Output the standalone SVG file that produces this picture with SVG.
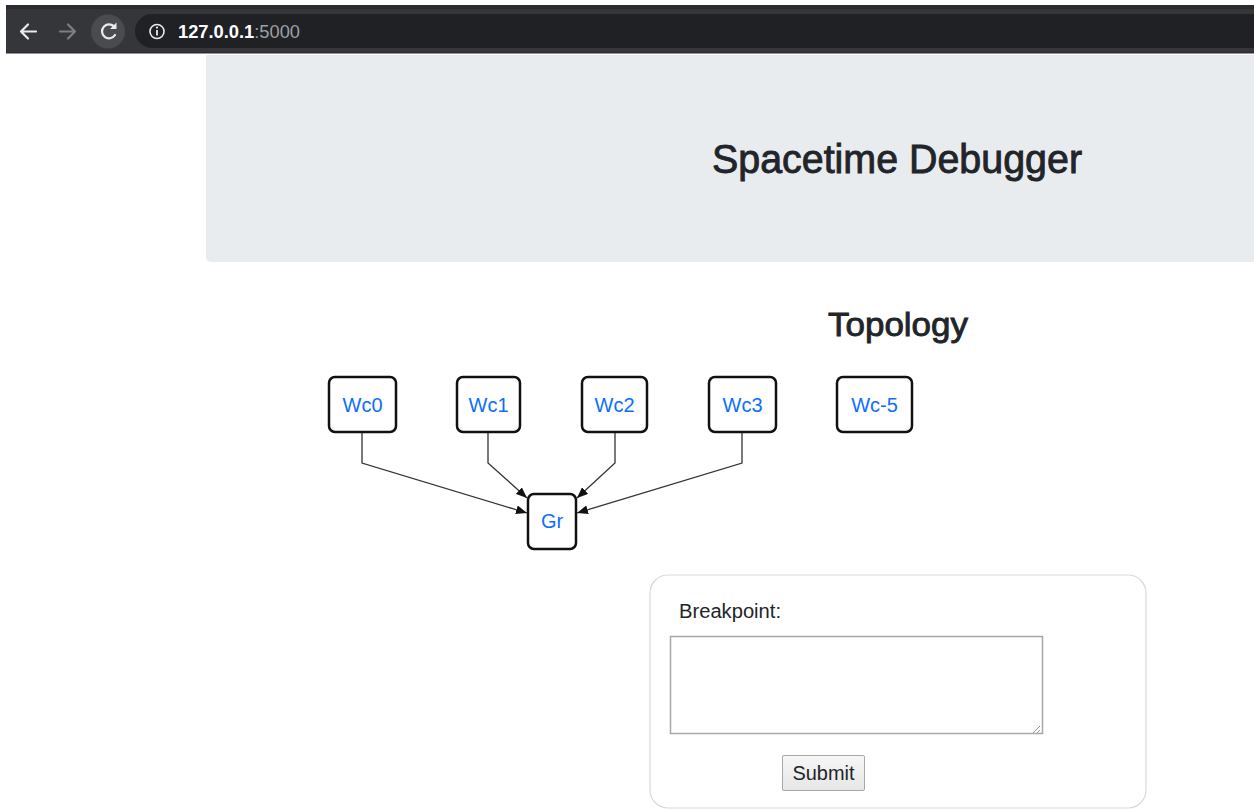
<svg xmlns="http://www.w3.org/2000/svg" width="1254" height="809" viewBox="0 0 1254 809">
  <defs>
    <style>
      .node rect { fill: #ffffff; stroke: #111111; stroke-width: 2.5; }
      .node text { font-family: "Liberation Sans", Arial, sans-serif; font-size: 20px; fill: #0d6efd; text-anchor: middle; }
      .edge { fill: none; stroke: #333333; stroke-width: 1.3; marker-end: url(#arrow); }
      .ui { font-family: "Liberation Sans", Arial, sans-serif; fill: #212529; }
    </style>
    <marker id="arrow" markerUnits="userSpaceOnUse" markerWidth="11" markerHeight="9" refX="11" refY="4.5" orient="auto" viewBox="0 0 11 9">
      <path d="M0,0 L11,4.5 L0,9 z" fill="#111111"/>
    </marker>
    <linearGradient id="btn" x1="0" y1="0" x2="0" y2="1">
      <stop offset="0" stop-color="#f7f7f7"/>
      <stop offset="1" stop-color="#e6e6e6"/>
    </linearGradient>
  </defs>

  <rect width="1254" height="809" fill="#ffffff"/>

  <!-- browser toolbar -->
  <g id="browser-bar">
    <rect x="6" y="5" width="1248" height="48" fill="#35363a"/>
    <rect x="6" y="5" width="1248" height="4" fill="#2a2b2e"/>
    <rect x="6" y="52" width="1248" height="1.5" fill="#2c2d30"/>
    <path d="M152,14 H1254 V48 H152 A17,17 0 0 1 152,14 z" fill="#202124"/>
    <circle cx="108" cy="31.5" r="17" fill="#4a4b4f"/>
    <path d="M36,31.5 H21 M28,24.5 L21,31.5 L28,38.5" fill="none" stroke="#e8eaed" stroke-width="2.2" stroke-linecap="round" stroke-linejoin="round"/>
    <path d="M60,31.5 H75 M68,24.5 L75,31.5 L68,38.5" fill="none" stroke="#7d7e82" stroke-width="2.2" stroke-linecap="round" stroke-linejoin="round"/>
    <path d="M114.5,27 A7,7 0 1 0 115,35" fill="none" stroke="#e8eaed" stroke-width="2.2" stroke-linecap="round"/>
    <path d="M116.5,22.5 L116.5,29 L110,29 z" fill="#e8eaed"/>
    <circle cx="157" cy="31.5" r="7" fill="none" stroke="#e8eaed" stroke-width="1.6"/>
    <rect x="156.1" y="30" width="1.8" height="5.5" fill="#e8eaed"/>
    <circle cx="157" cy="27.6" r="1.1" fill="#e8eaed"/>
    <text x="178" y="37.5" font-family="Liberation Sans, Arial, sans-serif" font-size="17.5" textLength="122" lengthAdjust="spacingAndGlyphs"><tspan fill="#ffffff" font-weight="bold">127.0.0.1</tspan><tspan fill="#9aa0a6">:5000</tspan></text>
  </g>

  <!-- header panel -->
  <g id="header">
    <path d="M206,55 H1254 V262 H211 A5,5 0 0 1 206,257 z" fill="#e9ecef"/>
    <text class="ui" x="897" y="173" font-size="40" text-anchor="middle" stroke="#212529" stroke-width="0.9" textLength="370" lengthAdjust="spacingAndGlyphs">Spacetime Debugger</text>
  </g>

  <text id="topology-title" class="ui" x="898" y="336" font-size="34" text-anchor="middle" stroke="#212529" stroke-width="0.9" textLength="140" lengthAdjust="spacingAndGlyphs">Topology</text>

  <!-- connectors -->
  <g id="connectors">
    <path class="edge" d="M362,433 V463 L527,513"/>
    <path class="edge" d="M488,433 V463 L527,498"/>
    <path class="edge" d="M615,433 V463 L577,498"/>
    <path class="edge" d="M742,433 V463 L577,513"/>
  </g>

  <!-- nodes -->
  <g id="node-Wc0" class="node">
    <rect x="329" y="377" width="67" height="55" rx="6"/>
    <text x="362.5" y="412">Wc0</text>
  </g>
  <g id="node-Wc1" class="node">
    <rect x="457" y="377" width="63" height="55" rx="6"/>
    <text x="488.5" y="412">Wc1</text>
  </g>
  <g id="node-Wc2" class="node">
    <rect x="582" y="377" width="65" height="55" rx="6"/>
    <text x="614.5" y="412">Wc2</text>
  </g>
  <g id="node-Wc3" class="node">
    <rect x="709" y="377" width="67" height="55" rx="6"/>
    <text x="742.5" y="412">Wc3</text>
  </g>
  <g id="node-Wc-5" class="node">
    <rect x="837" y="377" width="75" height="55" rx="6"/>
    <text x="874.5" y="412">Wc-5</text>
  </g>
  <g id="node-Gr" class="node">
    <rect x="528" y="494" width="48" height="55" rx="6"/>
    <text x="552" y="528">Gr</text>
  </g>

  <!-- breakpoint form -->
  <g id="breakpoint-form">
    <rect x="650" y="575" width="496" height="233" rx="18" fill="#ffffff" stroke="#d9d9d9" stroke-width="1.2"/>
    <text class="ui" x="679" y="618" font-size="20" textLength="102" lengthAdjust="spacingAndGlyphs">Breakpoint:</text>
    <rect x="670.5" y="636.5" width="372" height="97" fill="#ffffff" stroke="#a8a8a8" stroke-width="1.5"/>
    <path d="M1040,726 L1033,733 M1040,730 L1037,733" stroke="#999999" stroke-width="1"/>
    <rect x="782.5" y="755.5" width="82" height="35" rx="1.5" fill="url(#btn)" stroke="#a9a9a9" stroke-width="1"/>
    <text class="ui" x="823.5" y="780" font-size="20" text-anchor="middle" textLength="62" lengthAdjust="spacingAndGlyphs">Submit</text>
  </g>
</svg>
